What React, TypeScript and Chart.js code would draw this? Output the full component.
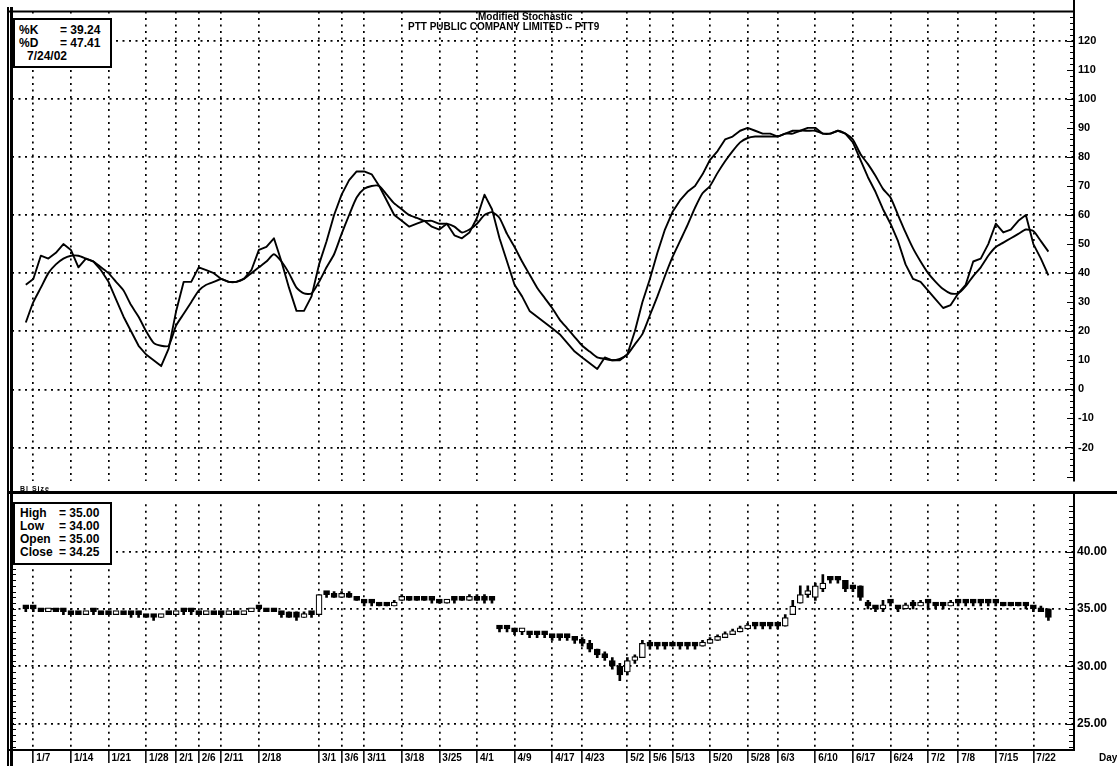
import React, { useEffect, useRef } from "react";
import { Chart, registerables } from "chart.js";

Chart.register(...registerables);

// ---------- data (trading-day index 0 = 1/4/02 ... 136 = 7/24/02) ----------
const kValues = [
  36, 38, 46, 45, 47, 50, 48, 42, 45, 44,
  41, 37, 31, 25, 20, 15, 12, 10, 8, 14,
  27, 37, 37, 42, 41, 40, 38, 37, 37, 38,
  41, 48, 49, 52, 44, 35, 27, 27, 32, 43,
  51, 60, 67, 72, 75, 75, 74, 70, 65, 60,
  58, 56, 57, 58, 56, 55, 57, 53, 52, 54,
  59, 67, 62, 52, 44, 36, 32, 27, 25, 23,
  21, 19, 16, 13, 11, 9, 7, 11, 10, 10,
  12, 20, 30, 38, 47, 55, 61, 65, 68, 70,
  74, 79, 82, 86, 87, 89, 90, 89, 88, 88,
  87, 88, 89, 89, 90, 90, 88, 88, 89, 88,
  85, 79, 73, 68, 62, 57, 51, 43, 38, 37,
  34, 31, 28, 29, 33, 36, 44, 45, 50, 57,
  54, 55, 58, 60, 50, 45, 39.24,
];

const dValues = [
  23, 30, 35, 40, 43, 45, 46, 46, 45, 44,
  42, 40, 37, 34, 29, 25, 20, 16, 15, 15,
  22, 26, 30, 34, 36, 37, 38, 37, 37, 38,
  40, 42, 44, 46.5, 44, 40, 35, 33, 33, 37,
  42, 46.5, 53.5, 60, 66, 69, 70, 70, 67, 64,
  62, 60, 59, 58, 58, 57, 57, 56, 54, 55,
  57, 60, 61, 59, 53.5, 49, 44, 39.5, 35, 31.5,
  28, 24, 21, 18, 15, 13, 11, 10.5, 10, 10.5,
  12, 15.5, 19, 25.5, 32, 39, 45.5, 51, 56.5, 62.5,
  67.5, 70, 74.5, 78.5, 82, 85, 86.5, 87, 87, 87,
  87, 88, 88, 89, 89, 89, 88, 88, 89, 88,
  86, 81, 77.5, 73.5, 69, 66, 60, 54, 48.5, 44,
  40, 37, 34.5, 33, 33, 35.5, 39, 42, 46, 49,
  50.5, 52, 53.5, 55, 54.5, 51, 47.41,
];

const openValues = [
  35.0, 35.0, 35.0, 34.75, 35.0, 34.75, 34.75, 34.5, 34.5, 34.75,
  34.75, 34.5, 34.5, 34.75, 34.5, 34.5, 34.5, 34.25, 34.25, 34.5,
  34.5, 34.75, 34.75, 34.75, 34.5, 34.75, 34.5, 34.5, 34.75, 34.5,
  34.75, 35.0, 35.0, 34.75, 34.75, 34.75, 34.75, 34.25, 34.5, 34.5,
  36.25, 36.25, 36.0, 36.25, 36.0, 35.75, 35.5, 35.5, 35.25, 35.25,
  35.75, 36.0, 35.75, 35.75, 35.75, 35.75, 35.5, 35.75, 35.75, 35.75,
  36.0, 36.0, 35.75, 33.25, 33.25, 33.25, 33.0, 33.0, 32.75, 32.75,
  32.75, 32.75, 32.5, 32.5, 32.25, 32.0, 31.5, 31.0, 30.5, 30.0,
  29.5, 30.5, 30.75, 32.0, 31.75, 31.75, 31.75, 31.75, 31.75, 31.75,
  31.75, 32.0, 32.25, 32.5, 32.75, 33.0, 33.25, 33.5, 33.5, 33.5,
  33.5, 33.5, 34.5, 35.5, 36.25, 36.0, 36.75, 37.5, 37.75, 37.5,
  37.0, 37.0, 35.5, 35.25, 35.0, 35.5, 35.25, 35.0, 35.25, 35.25,
  35.5, 35.5, 35.25, 35.25, 35.5, 35.5, 35.5, 35.5, 35.5, 35.5,
  35.5, 35.5, 35.5, 35.5, 35.25, 35.0, 35.0,
];

const highValues = [
  35.25, 35.0, 35.0, 35.0, 35.0, 35.0, 34.75, 34.75, 34.75, 34.75,
  34.75, 34.75, 34.75, 34.75, 34.75, 34.5, 34.5, 34.5, 34.5, 34.75,
  34.75, 35.0, 34.75, 34.75, 34.75, 34.75, 34.75, 34.75, 34.75, 34.75,
  35.0, 35.25, 35.0, 35.0, 34.75, 34.75, 34.75, 34.75, 34.75, 36.25,
  36.5, 36.5, 36.5, 36.5, 36.0, 35.75, 35.75, 35.5, 35.5, 35.75,
  36.25, 36.0, 36.0, 36.0, 35.75, 35.75, 35.75, 36.0, 36.0, 36.25,
  36.25, 36.25, 36.0, 33.5, 33.5, 33.25, 33.25, 33.0, 33.0, 33.0,
  32.75, 32.75, 32.75, 32.5, 32.5, 32.25, 31.5, 31.25, 30.75, 30.25,
  30.75, 31.0, 32.25, 32.25, 32.0, 32.0, 32.0, 32.0, 32.0, 32.0,
  32.25, 32.5, 32.75, 33.0, 33.25, 33.5, 33.75, 33.75, 33.75, 33.75,
  33.75, 34.5, 35.75, 37.0, 37.0, 37.25, 38.0, 37.75, 37.75, 37.5,
  37.0, 37.0, 35.75, 35.25, 35.75, 35.75, 35.25, 35.5, 35.75, 35.75,
  35.75, 35.5, 35.5, 35.75, 35.75, 35.75, 35.75, 35.75, 35.75, 35.75,
  35.5, 35.5, 35.5, 35.5, 35.25, 35.25, 35.0,
];

const lowValues = [
  34.75, 34.75, 34.75, 34.75, 34.75, 34.5, 34.5, 34.5, 34.5, 34.5,
  34.5, 34.5, 34.5, 34.5, 34.25, 34.25, 34.25, 34.0, 34.25, 34.5,
  34.5, 34.5, 34.5, 34.5, 34.5, 34.5, 34.25, 34.5, 34.5, 34.5,
  34.75, 34.75, 34.75, 34.75, 34.25, 34.25, 34.0, 34.25, 34.25, 34.5,
  36.0, 36.0, 36.0, 36.0, 35.75, 35.25, 35.25, 35.25, 35.25, 35.25,
  35.75, 35.75, 35.75, 35.75, 35.5, 35.5, 35.5, 35.5, 35.75, 35.75,
  35.75, 35.5, 35.5, 33.0, 33.0, 32.75, 32.75, 32.5, 32.5, 32.5,
  32.25, 32.25, 32.25, 32.0, 31.75, 31.25, 30.75, 30.5, 29.75, 28.75,
  29.25, 30.25, 30.75, 31.5, 31.5, 31.5, 31.75, 31.5, 31.5, 31.5,
  31.75, 32.0, 32.25, 32.5, 32.75, 33.0, 33.25, 33.25, 33.25, 33.25,
  33.25, 33.5, 34.5, 35.5, 36.0, 35.75, 36.5, 37.25, 37.25, 36.5,
  36.5, 35.75, 35.0, 34.75, 34.75, 35.25, 34.75, 35.0, 35.0, 35.25,
  35.0, 35.0, 35.0, 35.25, 35.25, 35.25, 35.25, 35.25, 35.25, 35.25,
  35.25, 35.25, 35.25, 35.0, 34.75, 34.75, 34.0,
];

const closeValues = [
  35.0, 35.0, 34.75, 35.0, 34.75, 34.75, 34.5, 34.5, 34.75, 34.75,
  34.5, 34.5, 34.75, 34.5, 34.5, 34.5, 34.25, 34.25, 34.5, 34.5,
  34.75, 34.75, 34.75, 34.5, 34.75, 34.5, 34.5, 34.75, 34.5, 34.75,
  35.0, 35.0, 34.75, 34.75, 34.5, 34.25, 34.25, 34.5, 34.5, 36.25,
  36.25, 36.0, 36.25, 36.0, 35.75, 35.5, 35.5, 35.25, 35.25, 35.5,
  36.0, 35.75, 35.75, 35.75, 35.75, 35.5, 35.75, 35.75, 35.75, 36.0,
  35.75, 35.75, 35.75, 33.25, 33.25, 33.0, 33.25, 32.75, 32.75, 32.75,
  32.5, 32.5, 32.5, 32.25, 32.0, 31.5, 31.0, 30.75, 30.0, 29.25,
  30.5, 30.75, 32.0, 31.75, 31.75, 31.75, 31.75, 31.75, 31.75, 31.75,
  32.0, 32.25, 32.5, 32.75, 33.0, 33.25, 33.5, 33.5, 33.5, 33.5,
  33.5, 34.25, 35.25, 36.25, 36.5, 37.0, 37.25, 37.5, 37.5, 36.75,
  36.75, 36.0, 35.25, 35.0, 35.25, 35.5, 35.0, 35.25, 35.25, 35.5,
  35.5, 35.25, 35.25, 35.5, 35.5, 35.5, 35.5, 35.5, 35.5, 35.5,
  35.25, 35.25, 35.25, 35.25, 35.0, 34.75, 34.25,
];

const tickIndex = [1, 6, 11, 16, 20, 23, 26, 31, 39, 42, 45, 50, 55, 60, 65, 70, 74, 80, 83, 86, 91, 96, 100, 105, 110, 115, 120, 124, 129, 134];
const tickLabels = ["1/7", "1/14", "1/21", "1/28", "2/1", "2/6", "2/11", "2/18", "3/1", "3/6", "3/11", "3/18", "3/25", "4/1", "4/9", "4/17", "4/23", "5/2", "5/6", "5/13", "5/20", "5/28", "6/3", "6/10", "6/17", "6/24", "7/2", "7/8", "7/15", "7/22"];
const stochTicks = [-20, -10, 0, 10, 20, 30, 40, 50, 60, 70, 80, 90, 100, 110, 120];
const priceTicks = [25, 30, 35, 40];

const X_MIN = -1.835;
const X_MAX = 139.27;
const FONT = "'Liberation Sans', Arial, Helvetica, sans-serif";
const DASH = [2, 4.5];

function xScale(showLabels: boolean): any {
  return {
    type: "linear",
    min: X_MIN,
    max: X_MAX,
    offset: false,
    afterBuildTicks: (s: any) => {
      s.ticks = tickIndex.map((v) => ({ value: v }));
    },
    afterFit: (s: any) => {
      s.height = showLabels ? 17 : 0;
    },
    grid: {
      color: "#000",
      lineWidth: 1.7,
      drawTicks: showLabels,
      tickLength: 14,
      tickColor: "#000",
      tickWidth: 1.5,
      tickBorderDash: [],
      offset: false,
    },
    border: { display: false, dash: DASH },
    ticks: {
      display: showLabels,
      autoSkip: false,
      maxRotation: 0,
      minRotation: 0,
      align: "start",
      labelOffset: 3,
      padding: -11,
      color: "#000",
      font: { family: FONT, size: 10, weight: "bold" },
      callback: (_v: any, i: number) => tickLabels[i],
    },
  };
}

const topFrame = {
  id: "topFrame",
  afterDraw(chart: any) {
    const { ctx, chartArea: a, scales } = chart;
    const y = scales.y;
    ctx.save();
    ctx.strokeStyle = "#000";
    ctx.lineWidth = 2;
    ctx.beginPath();
    ctx.moveTo(8, a.top);
    ctx.lineTo(a.right, a.top);
    ctx.stroke();
    ctx.beginPath();
    ctx.moveTo(a.right + 1, 0);
    ctx.lineTo(a.right + 1, a.bottom);
    ctx.stroke();
    ctx.lineWidth = 1;
    for (let v = -30; v <= 128; v += 2) {
      const py = Math.round(y.getPixelForValue(v)) + 0.5;
      const len = v % 10 === 0 ? 6 : 3;
      ctx.beginPath();
      ctx.moveTo(a.right - len, py);
      ctx.lineTo(a.right, py);
      ctx.stroke();
    }
    ctx.restore();
  },
};

const bottomFrame = {
  id: "bottomFrame",
  afterDraw(chart: any) {
    const { ctx, chartArea: a, scales } = chart;
    const y = scales.y;
    ctx.save();
    ctx.strokeStyle = "#000";
    ctx.lineWidth = 2;
    ctx.beginPath();
    ctx.moveTo(a.right + 1, 0);
    ctx.lineTo(a.right + 1, a.bottom + 1);
    ctx.stroke();
    ctx.beginPath();
    ctx.moveTo(8, a.bottom + 1);
    ctx.lineTo(a.right + 2, a.bottom + 1);
    ctx.stroke();
    ctx.lineWidth = 1;
    for (let v = 23; v <= 44; v += 0.5) {
      const py = Math.round(y.getPixelForValue(v)) + 0.5;
      const len = v % 5 === 0 ? 7 : 4;
      ctx.beginPath();
      ctx.moveTo(a.right - len, py);
      ctx.lineTo(a.right, py);
      ctx.stroke();
      ctx.beginPath();
      ctx.moveTo(a.left, py);
      ctx.lineTo(a.left + 4, py);
      ctx.stroke();
    }
    ctx.restore();
  },
};

function Txt(props: { x: number; y: number; size: number; children: any; spacing?: number }) {
  return (
    <div
      style={{
        position: "absolute",
        left: props.x,
        top: props.y,
        transform: "translateY(-50%)",
        fontFamily: FONT,
        fontWeight: "bold",
        fontSize: props.size,
        lineHeight: 1,
        whiteSpace: "nowrap",
        color: "#000",
        letterSpacing: props.spacing ?? 0,
      }}
    >
      {props.children}
    </div>
  );
}

export default function App() {
  const topRef = useRef<HTMLCanvasElement>(null);
  const botRef = useRef<HTMLCanvasElement>(null);

  useEffect(() => {
    const top = new Chart(topRef.current as HTMLCanvasElement, {
      type: "line",
      data: {
        datasets: [
          {
            label: "%K",
            data: kValues.map((v, i) => ({ x: i, y: v })),
            borderColor: "#000",
            borderWidth: 1.9,
            pointRadius: 0,
            tension: 0,
            borderJoinStyle: "round",
          },
          {
            label: "%D",
            data: dValues.map((v, i) => ({ x: i, y: v })),
            borderColor: "#000",
            borderWidth: 1.9,
            pointRadius: 0,
            tension: 0.2,
            borderJoinStyle: "round",
          },
        ],
      },
      options: {
        responsive: false,
        animation: false,
        events: [],
        layout: { padding: { left: 12, top: 8, right: 0, bottom: 0 } },
        plugins: { legend: { display: false }, tooltip: { enabled: false } },
        scales: {
          x: xScale(false),
          y: {
            position: "right",
            min: -31.67,
            max: 130,
            afterBuildTicks: (s: any) => {
              s.ticks = stochTicks.map((v) => ({ value: v }));
            },
            afterFit: (s: any) => {
              s.width = 44;
            },
            grid: {
              color: (c: any) => (c.tick && c.tick.value % 20 === 0 ? "#000" : "rgba(0,0,0,0)"),
              lineWidth: 1.7,
              drawTicks: false,
            },
            border: { display: false, dash: DASH },
            ticks: {
              padding: 5,
              color: "#000",
              font: { family: FONT, size: 11, weight: "bold" },
              callback: (v: any) => String(v),
            },
          },
        },
      } as any,
      plugins: [topFrame],
    });

    const bot = new Chart(botRef.current as HTMLCanvasElement, {
      type: "bar",
      data: {
        datasets: [
          {
            label: "Body",
            data: openValues.map((o, i) => ({
              x: i,
              y: [Math.min(o, closeValues[i]), Math.max(o, closeValues[i])],
            })),
            backgroundColor: openValues.map((o, i) => (closeValues[i] > o ? "#fff" : "#000")),
            borderColor: "#000",
            borderWidth: 1.2,
            borderSkipped: false,
            barThickness: 6,
            minBarLength: 4,
            grouped: false,
          } as any,
          {
            label: "Range",
            data: lowValues.map((l, i) => ({ x: i, y: [l, highValues[i]] })),
            backgroundColor: "#000",
            borderWidth: 0,
            barThickness: 2,
            grouped: false,
          } as any,
        ],
      },
      options: {
        responsive: false,
        animation: false,
        events: [],
        layout: { padding: { left: 12, top: 0, right: 0, bottom: 0 } },
        plugins: { legend: { display: false }, tooltip: { enabled: false } },
        scales: {
          x: xScale(true),
          y: {
            position: "right",
            min: 22.79,
            max: 44.125,
            afterBuildTicks: (s: any) => {
              s.ticks = priceTicks.map((v) => ({ value: v }));
            },
            afterFit: (s: any) => {
              s.width = 44;
            },
            grid: { color: "#000", lineWidth: 1.7, drawTicks: false },
            border: { display: false, dash: DASH },
            ticks: {
              padding: 4,
              color: "#000",
              font: { family: FONT, size: 12, weight: "bold" },
              callback: (v: any) => Number(v).toFixed(2),
            },
          },
        },
      } as any,
      plugins: [bottomFrame],
    });

    return () => {
      top.destroy();
      bot.destroy();
    };
  }, []);

  return (
    <div
      style={{
        position: "absolute",
        left: 0,
        top: 0,
        width: 1117,
        height: 766,
        background: "#fff",
        overflow: "hidden",
      }}
    >
      <canvas ref={topRef} width={1117} height={493} style={{ position: "absolute", left: 0, top: 0 }} />
      <canvas ref={botRef} width={1117} height={273} style={{ position: "absolute", left: 0, top: 493 }} />

      {/* frame lines */}
      <div style={{ position: "absolute", left: 7, top: 7, width: 2, height: 759, background: "#000" }} />
      <div style={{ position: "absolute", left: 10, top: 7, width: 3, height: 759, background: "#000" }} />
      <div style={{ position: "absolute", left: 8, top: 491, width: 1109, height: 3, background: "#000" }} />

      {/* title */}
      <Txt x={478} y={17} size={10}>Modified Stochastic</Txt>
      <Txt x={408} y={27} size={10}>PTT PUBLIC COMPANY LIMITED -- PTT9</Txt>

      {/* top legend box */}
      <div
        style={{
          position: "absolute",
          left: 13,
          top: 18,
          width: 99,
          height: 50,
          boxSizing: "border-box",
          border: "2px solid #000",
          background: "#fff",
        }}
      />
      <Txt x={19} y={30} size={12}>%K</Txt>
      <Txt x={60} y={30} size={12}>= 39.24</Txt>
      <Txt x={19} y={43} size={12}>%D</Txt>
      <Txt x={60} y={43} size={12}>= 47.41</Txt>
      <Txt x={27} y={56} size={12}>7/24/02</Txt>

      <Txt x={20} y={488} size={7} spacing={1}>Bl Size</Txt>

      {/* bottom legend box */}
      <div
        style={{
          position: "absolute",
          left: 13,
          top: 502,
          width: 99,
          height: 63,
          boxSizing: "border-box",
          border: "2px solid #000",
          background: "#fff",
        }}
      />
      <Txt x={20} y={513} size={12}>High</Txt>
      <Txt x={59} y={513} size={12}>= 35.00</Txt>
      <Txt x={20} y={526} size={12}>Low</Txt>
      <Txt x={59} y={526} size={12}>= 34.00</Txt>
      <Txt x={20} y={539} size={12}>Open</Txt>
      <Txt x={59} y={539} size={12}>= 35.00</Txt>
      <Txt x={20} y={552} size={12}>Close</Txt>
      <Txt x={59} y={552} size={12}>= 34.25</Txt>

      <Txt x={1099} y={758} size={10}>Day</Txt>
    </div>
  );
}
